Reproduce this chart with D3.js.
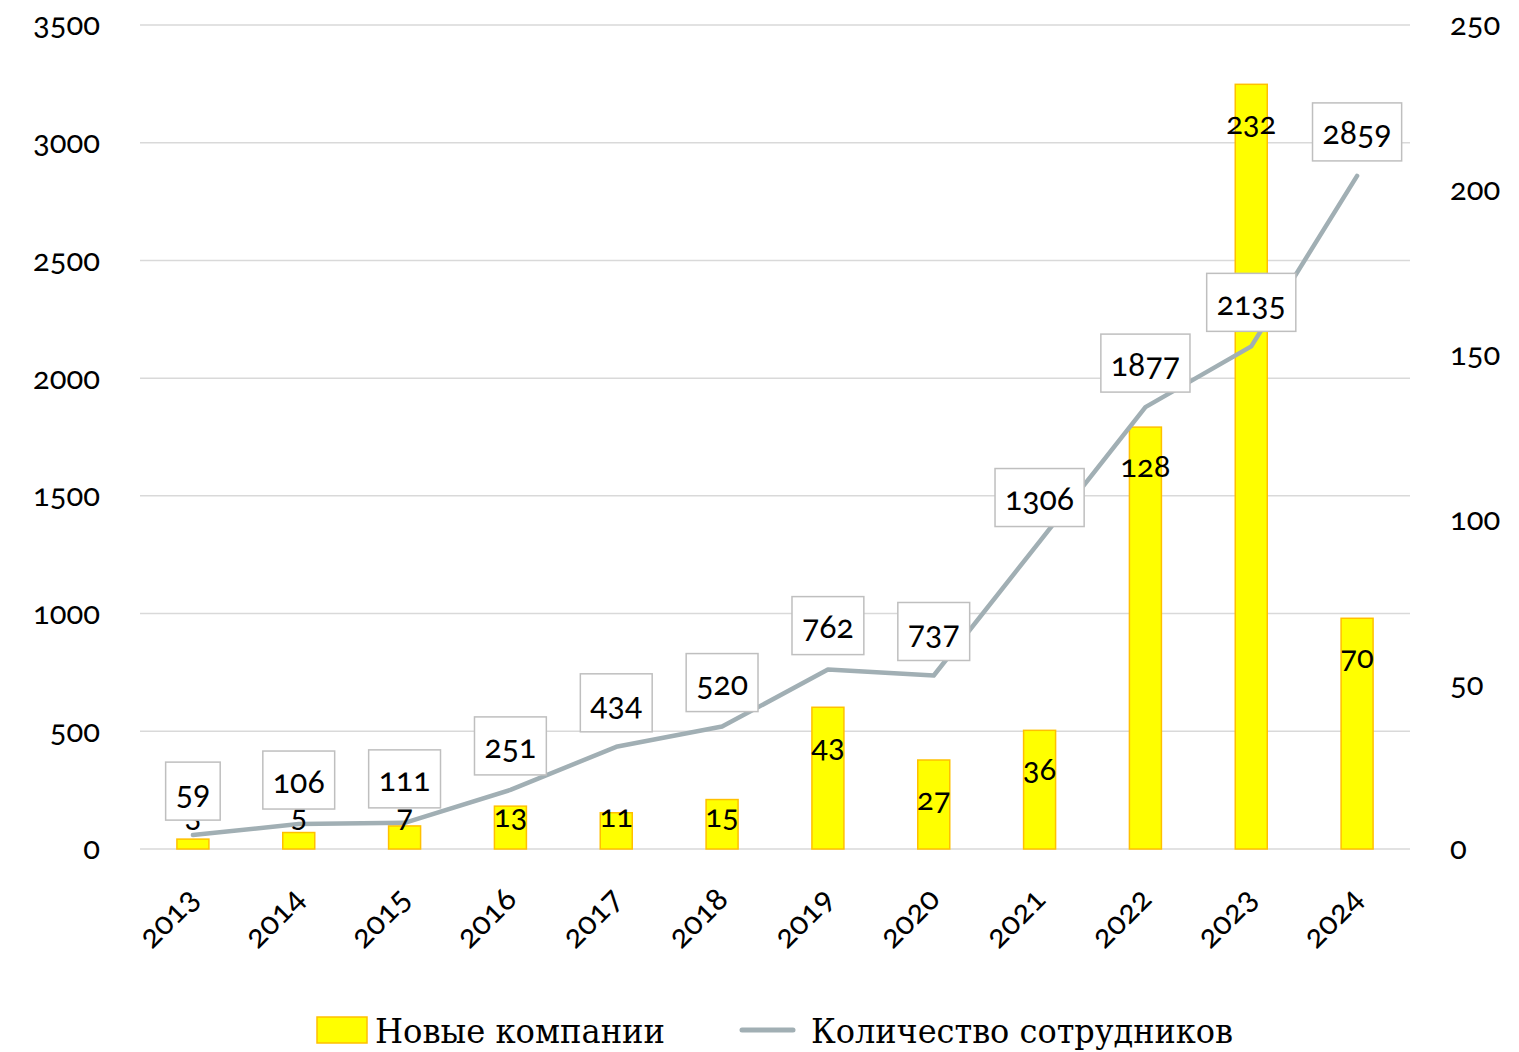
<!DOCTYPE html>
<html><head><meta charset="utf-8">
<script src="https://cdn.jsdelivr.net/npm/d3@7"></script>
<style>
html,body{margin:0;padding:0;background:#fff;}
svg text{font-family:Lato,"Open Sans",sans-serif;font-variant-numeric:oldstyle-nums;font-feature-settings:"onum" 1;}
</style></head><body>
<svg id="chart" width="1519" height="1052"></svg>
<script>
const years = ["2013","2014","2015","2016","2017","2018","2019","2020","2021","2022","2023","2024"];
const newCompanies = [3,5,7,13,11,15,43,27,36,128,232,70];
const employees = [59,106,111,251,434,520,762,737,1306,1877,2135,2859];
const leftTicks = [0,500,1000,1500,2000,2500,3000,3500];
const rightTicks = [0,50,100,150,200,250];
const seriesNames = ["Новые компании","Количество сотрудников"];

const svg = d3.select("#chart");
const pL = 140, pR = 1410, pT = 25, pB = 849;
const x = d3.scaleBand().domain(years).range([pL,pR]).padding(0);
const yL = d3.scaleLinear().domain([0,3500]).range([pB,pT]);
const yR = d3.scaleLinear().domain([0,250]).range([pB,pT]);

// gridlines
svg.append("g").selectAll("line").data(leftTicks).join("line")
  .attr("x1",pL).attr("x2",pR)
  .attr("y1",d=>yL(d)).attr("y2",d=>yL(d))
  .attr("stroke","#D9D9D9").attr("stroke-width",1.5);

// left axis labels
const axL = svg.append("g").attr("transform",`translate(${pL-40},0)`)
  .call(d3.axisLeft(yL).tickValues(leftTicks).tickFormat(d3.format("d")).tickSize(0).tickPadding(0));
axL.select(".domain").remove();
axL.selectAll("text").attr("font-size",31).attr("fill","#000").attr("dy","0.32em");

const axR = svg.append("g").attr("transform",`translate(${pR+40},0)`)
  .call(d3.axisRight(yR).tickValues(rightTicks).tickFormat(d3.format("d")).tickSize(0).tickPadding(0));
axR.select(".domain").remove();
axR.selectAll("text").attr("font-size",31).attr("fill","#000").attr("dy","0.32em");

// x axis labels
const axX = svg.append("g").attr("transform",`translate(0,${pB})`)
  .call(d3.axisBottom(x).tickSize(0).tickPadding(0));
axX.select(".domain").remove();
axX.selectAll("text").attr("font-size",32).attr("fill","#000")
  .attr("text-anchor","end").attr("dy",0)
  .attr("transform","translate(8,52) rotate(-45)");

// bars
const bw = 32;
svg.append("g").selectAll("rect").data(years).join("rect")
  .attr("x",(d)=>x(d)+x.bandwidth()/2-bw/2)
  .attr("y",(d,i)=>yR(newCompanies[i]))
  .attr("width",bw)
  .attr("height",(d,i)=>pB-yR(newCompanies[i]))
  .attr("fill","#FFFF00").attr("stroke","#FFC000").attr("stroke-width",1.5);

// line
const line = d3.line().x((d,i)=>x(years[i])+x.bandwidth()/2).y(d=>yL(d));
svg.append("path").datum(employees).attr("d",line)
  .attr("fill","none").attr("stroke","#A1AFB4").attr("stroke-width",4.5)
  .attr("stroke-linejoin","round").attr("stroke-linecap","round");

// bar labels
svg.append("g").selectAll("text").data(years).join("text")
  .attr("x",d=>x(d)+x.bandwidth()/2)
  .attr("y",(d,i)=>Math.min(yR(newCompanies[i])+38,815))
  .attr("text-anchor","middle").attr("dominant-baseline","central")
  .attr("font-size",31).attr("fill","#000")
  .text((d,i)=>newCompanies[i]);

// line labels with boxes
const lg = svg.append("g");
employees.forEach((v,i)=>{
  const cx = x(years[i])+x.bandwidth()/2;
  const cy = yL(v)-44;
  const g = lg.append("g");
  const t = g.append("text").attr("x",cx).attr("y",cy)
    .attr("text-anchor","middle").attr("dominant-baseline","central")
    .attr("font-size",32).attr("fill","#000").text(v);
  const w = t.node().getComputedTextLength()+20;
  g.insert("rect","text").attr("x",cx-w/2).attr("y",cy-29).attr("width",w).attr("height",58)
    .attr("fill","#fff").attr("stroke","#BFBFBF").attr("stroke-width",1.5);
});

// legend
const leg = svg.append("g");
leg.append("rect").attr("x",317).attr("y",1017).attr("width",50).attr("height",26)
  .attr("fill","#FFFF00").attr("stroke","#FFC000").attr("stroke-width",1.5);
leg.append("text").attr("x",375).attr("y",1043).attr("font-size",34)
  .style("font-family","'DejaVu Serif Condensed','DejaVu Serif',serif")
  .attr("textLength",290).attr("lengthAdjust","spacingAndGlyphs")
  .text(seriesNames[0]);
leg.append("line").attr("x1",742).attr("x2",793).attr("y1",1030).attr("y2",1030)
  .attr("stroke","#A1AFB4").attr("stroke-width",5).attr("stroke-linecap","round");
leg.append("text").attr("x",811).attr("y",1043).attr("font-size",34)
  .style("font-family","'DejaVu Serif Condensed','DejaVu Serif',serif")
  .attr("textLength",422).attr("lengthAdjust","spacingAndGlyphs")
  .text(seriesNames[1]);
</script></body></html>
